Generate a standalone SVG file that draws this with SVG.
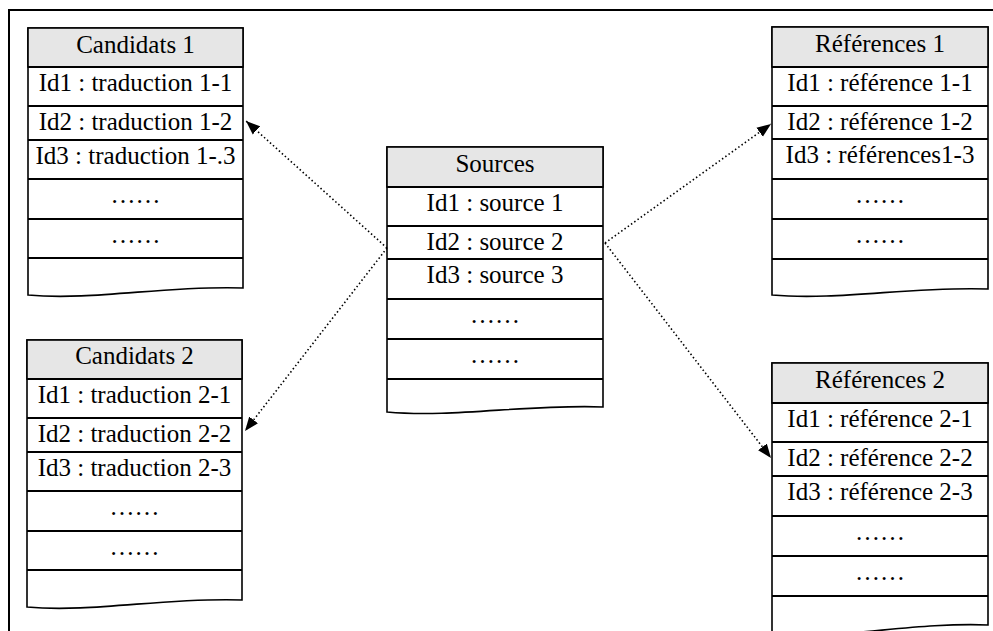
<svg xmlns="http://www.w3.org/2000/svg" width="993" height="631" viewBox="0 0 993 631">
<defs>
<style>
.body{fill:#fff;stroke:#000;stroke-width:1.6}
.head{fill:#e6e6e6;stroke:#000;stroke-width:1.6}
.row{stroke:#000;stroke-width:2;fill:none}
.t{font-family:"Liberation Serif","Times New Roman",serif;font-size:25px;fill:#000;text-anchor:middle}
.conn{stroke:#000;stroke-width:1.6;fill:none;stroke-dasharray:1.5 2.5}
</style>
<marker id="arr" markerUnits="userSpaceOnUse" markerWidth="15" markerHeight="12" refX="14" refY="6" orient="auto">
<path d="M0,0.5 L14,6 L0,11.5 Z" fill="#000"/>
</marker>
</defs>
<rect x="0" y="0" width="993" height="631" fill="#fff"/>
<path d="M9,631 V10 H993" fill="none" stroke="#000" stroke-width="2"/>

<g id="candidats1">
<path class="body" d="M28,28 H243 V288 C168,285 93,301 28,295 Z"/>
<rect class="head" x="28" y="28" width="215" height="39"/>
<path class="row" d="M28,67 H243 M28,106 H243 M28,140 H243 M28,179 H243 M28,219 H243 M28,258 H243"/>
<text class="t" x="135.5" y="53">Candidats 1</text>
<text class="t" x="135.5" y="91">Id1 : traduction 1-1</text>
<text class="t" x="135.5" y="130">Id2 : traduction 1-2</text>
<text class="t" x="135.5" y="164">Id3 : traduction 1-.3</text>
<text class="t" x="135.5" y="203">……</text>
<text class="t" x="135.5" y="243">……</text>
</g>

<g id="candidats2">
<path class="body" d="M27,340 H242 V600 C167,597 92,613 27,607 Z"/>
<rect class="head" x="27" y="340" width="215" height="39"/>
<path class="row" d="M27,379 H242 M27,418 H242 M27,452 H242 M27,491 H242 M27,531 H242 M27,570 H242"/>
<text class="t" x="134.5" y="364">Candidats 2</text>
<text class="t" x="134.5" y="403">Id1 : traduction 2-1</text>
<text class="t" x="134.5" y="442">Id2 : traduction 2-2</text>
<text class="t" x="134.5" y="476">Id3 : traduction 2-3</text>
<text class="t" x="134.5" y="515">……</text>
<text class="t" x="134.5" y="555">……</text>
</g>

<g id="sources">
<path class="body" d="M387,147 H603 V407 C528,404 453,418 387,412 Z"/>
<rect class="head" x="387" y="147" width="216" height="40"/>
<path class="row" d="M387,187 H603 M387,226 H603 M387,259 H603 M387,299 H603 M387,339 H603 M387,379 H603"/>
<text class="t" x="495" y="172">Sources</text>
<text class="t" x="495" y="211">Id1 : source 1</text>
<text class="t" x="495" y="250">Id2 : source 2</text>
<text class="t" x="495" y="283">Id3 : source 3</text>
<text class="t" x="495" y="323">……</text>
<text class="t" x="495" y="363">……</text>
</g>

<g id="references1">
<path class="body" d="M772,27 H988 V289 C913,286 838,301 772,295 Z"/>
<rect class="head" x="772" y="27" width="216" height="40"/>
<path class="row" d="M772,67 H988 M772,106 H988 M772,139 H988 M772,179 H988 M772,219 H988 M772,259 H988"/>
<text class="t" x="880" y="52">Références 1</text>
<text class="t" x="880" y="91">Id1 : référence 1-1</text>
<text class="t" x="880" y="130">Id2 : référence 1-2</text>
<text class="t" x="880" y="163">Id3 : références1-3</text>
<text class="t" x="880" y="203">……</text>
<text class="t" x="880" y="243">……</text>
</g>

<g id="references2">
<path class="body" d="M772,363 H988 V625 C913,622 838,640 772,634 Z"/>
<rect class="head" x="772" y="363" width="216" height="40"/>
<path class="row" d="M772,403 H988 M772,442 H988 M772,476 H988 M772,516 H988 M772,556 H988 M772,596 H988"/>
<text class="t" x="880" y="388">Références 2</text>
<text class="t" x="880" y="427">Id1 : référence 2-1</text>
<text class="t" x="880" y="466">Id2 : référence 2-2</text>
<text class="t" x="880" y="500">Id3 : référence 2-3</text>
<text class="t" x="880" y="540">……</text>
<text class="t" x="880" y="580">……</text>
</g>

<g id="connectors">
<path class="conn" d="M387,248 L246,121" marker-end="url(#arr)"/>
<path class="conn" d="M387,248 L245,431" marker-end="url(#arr)"/>
<path class="conn" d="M605,243 L771,124" marker-end="url(#arr)"/>
<path class="conn" d="M605,243 L771,458" marker-end="url(#arr)"/>
</g>
</svg>
